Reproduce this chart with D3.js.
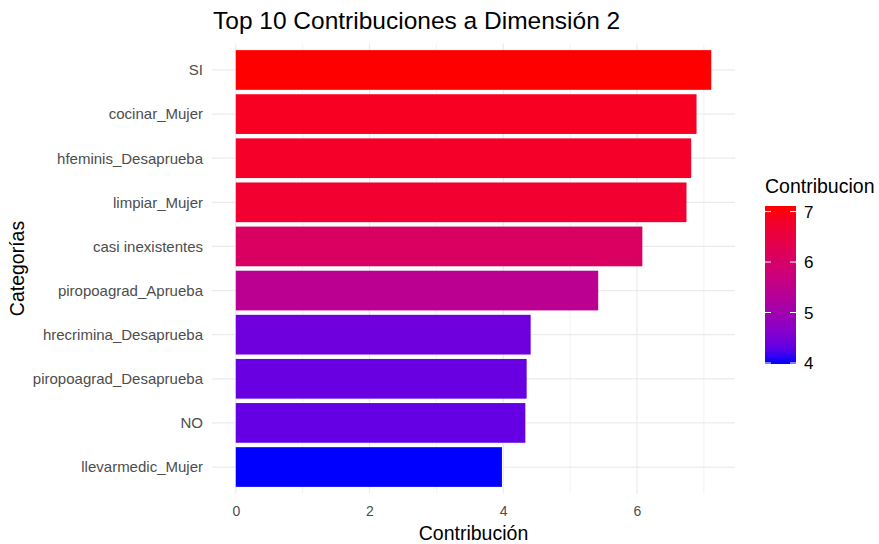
<!DOCTYPE html>
<html>
<head>
<meta charset="utf-8">
<script src="https://cdn.jsdelivr.net/npm/d3@7"></script>
<style>
  body { margin: 0; background: #fff; }
  svg { font-family: "Liberation Sans", Arial, sans-serif; }
</style>
</head>
<body>
<script>
"use strict";

// categories, top to bottom
var categories = ["SI", "cocinar_Mujer", "hfeminis_Desaprueba", "limpiar_Mujer",
    "casi inexistentes", "piropoagrad_Aprueba", "hrecrimina_Desaprueba",
    "piropoagrad_Desaprueba", "NO", "llevarmedic_Mujer"];
var contributions = [7.11, 6.89, 6.81, 6.74, 6.08, 5.42, 4.41, 4.35, 4.33, 3.98];
var xTicks = [0, 2, 4, 6];
var legendTicks = [4, 5, 6, 7];

var width = 879, height = 544;
var panel = {left: 212, right: 735, top: 43.5, bottom: 493.5};

var svg = d3.select("body").append("svg")
    .attr("width", width)
    .attr("height", height);

var maxVal = d3.max(contributions);
var x = d3.scaleLinear()
    .domain([-maxVal * 0.05, maxVal * 1.05])
    .range([panel.left, panel.right]);

// discrete axis with 0.6 unit expansion on each side
var step = (panel.bottom - panel.top) / (categories.length - 1 + 1.2);
var y = d3.scalePoint()
    .domain(categories)
    .range([panel.top + 0.6 * step, panel.bottom - 0.6 * step]);

var color = d3.scaleLinear()
    .domain(d3.extent(contributions))
    .range(["blue", "red"])
    .interpolate(d3.interpolateLab);

// grid
var grid = svg.append("g");
grid.selectAll(".minor")
    .data([1, 3, 5, 7])
    .enter().append("line")
    .attr("x1", d => x(d)).attr("x2", d => x(d))
    .attr("y1", panel.top).attr("y2", panel.bottom)
    .attr("stroke", "#f2f2f2").attr("stroke-width", 1);
grid.selectAll(".major")
    .data(xTicks)
    .enter().append("line")
    .attr("x1", d => x(d)).attr("x2", d => x(d))
    .attr("y1", panel.top).attr("y2", panel.bottom)
    .attr("stroke", "#ebebeb").attr("stroke-width", 1.2);
grid.selectAll(".hmajor")
    .data(categories)
    .enter().append("line")
    .attr("x1", panel.left).attr("x2", panel.right)
    .attr("y1", d => y(d)).attr("y2", d => y(d))
    .attr("stroke", "#ebebeb").attr("stroke-width", 1.2);

// bars
var barH = step * 0.9;
svg.append("g").selectAll("rect")
    .data(categories)
    .enter().append("rect")
    .attr("x", x(0))
    .attr("y", d => y(d) - barH / 2)
    .attr("width", (d, i) => x(contributions[i]) - x(0))
    .attr("height", barH)
    .attr("fill", (d, i) => color(contributions[i]));

// x axis
var xAxis = svg.append("g")
    .attr("transform", "translate(0," + (panel.bottom + 4) + ")")
    .call(d3.axisBottom(x).tickValues(xTicks).tickSize(0).tickPadding(9));
xAxis.select(".domain").remove();
xAxis.selectAll("text").attr("fill", "#4d4d4d").style("font-size", "14px");

// y axis
var yAxis = svg.append("g")
    .attr("transform", "translate(" + (panel.left - 4) + ",0)")
    .call(d3.axisLeft(y).tickSize(0).tickPadding(5));
yAxis.select(".domain").remove();
yAxis.selectAll("text").attr("fill", "#4d4d4d").style("font-size", "15px");

// titles
svg.append("text")
    .attr("x", panel.left + 1)
    .attr("y", 29)
    .style("font-size", "24.5px")
    .attr("fill", "#000")
    .text("Top 10 Contribuciones a Dimensión 2");

svg.append("text")
    .attr("x", (panel.left + panel.right) / 2)
    .attr("y", 540)
    .attr("text-anchor", "middle")
    .style("font-size", "19.5px")
    .text("Contribución");

svg.append("text")
    .attr("transform", "translate(24," + ((panel.top + panel.bottom) / 2) + ") rotate(-90)")
    .attr("text-anchor", "middle")
    .style("font-size", "19.5px")
    .text("Categorías");

// legend
var lg = {x: 765, w: 31, top: 206, bottom: 364};
var ly = d3.scaleLinear()
    .domain(d3.extent(contributions))
    .range([lg.bottom, lg.top]);

var defs = svg.append("defs");
var grad = defs.append("linearGradient")
    .attr("id", "legendgrad")
    .attr("x1", "0%").attr("y1", "100%").attr("x2", "0%").attr("y2", "0%");
grad.selectAll("stop")
    .data(d3.range(0, 1.0001, 0.1))
    .enter().append("stop")
    .attr("offset", d => d)
    .attr("stop-color", d => color(color.domain()[0] + d * (color.domain()[1] - color.domain()[0])));

svg.append("text")
    .attr("x", lg.x)
    .attr("y", 193)
    .style("font-size", "19.5px")
    .text("Contribucion");

svg.append("rect")
    .attr("x", lg.x).attr("y", lg.top)
    .attr("width", lg.w).attr("height", lg.bottom - lg.top)
    .attr("fill", "url(#legendgrad)");

var lt = svg.append("g").selectAll("g")
    .data(legendTicks)
    .enter().append("g");
lt.append("line")
    .attr("x1", lg.x).attr("x2", lg.x + 6)
    .attr("y1", d => ly(d)).attr("y2", d => ly(d))
    .attr("stroke", "#fff").attr("stroke-width", 1);
lt.append("line")
    .attr("x1", lg.x + lg.w - 6).attr("x2", lg.x + lg.w)
    .attr("y1", d => ly(d)).attr("y2", d => ly(d))
    .attr("stroke", "#fff").attr("stroke-width", 1);
lt.append("text")
    .attr("x", lg.x + lg.w + 8)
    .attr("y", d => ly(d))
    .attr("dy", "0.36em")
    .style("font-size", "17px")
    .text(d => d);
</script>
</body>
</html>
